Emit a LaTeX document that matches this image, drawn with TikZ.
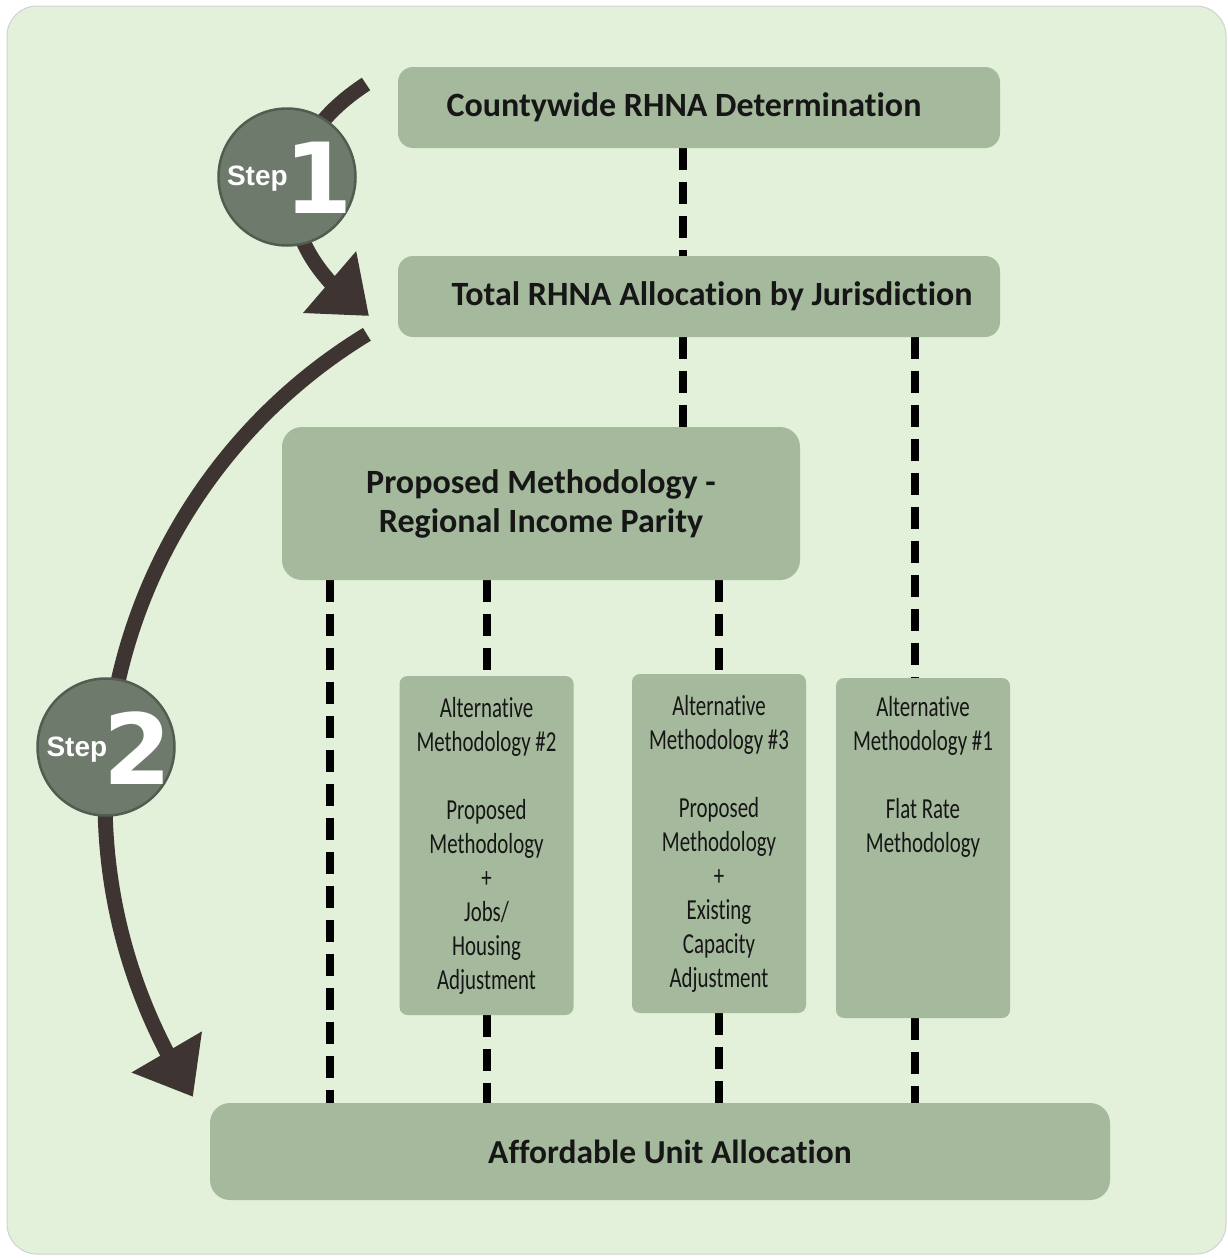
\documentclass[tikz,border=0pt]{standalone}
\usepackage{fontspec}
\setmainfont[Ligatures=NoCommon]{Carlito}
\newfontfamily\altfont[FakeStretch=0.72,Ligatures=NoCommon]{Carlito}
\newfontfamily\stepfont{Liberation Sans}
\newfontfamily\digitfont{DejaVu Sans}
\usetikzlibrary{arrows.meta,bending}
\definecolor{bgc}{HTML}{E3F0DA}
\definecolor{boxc}{HTML}{A5B99C}
\definecolor{arrowc}{HTML}{3E3431}
\definecolor{circc}{HTML}{6E7A6B}
\definecolor{circe}{HTML}{525C50}
\definecolor{txtc}{HTML}{161616}
\pgfdeclarelayer{bglayer}
\pgfsetlayers{bglayer,main}
\tikzset{
  titlebox/.style={fill=boxc, rounded corners=15pt, inner sep=0pt, text=txtc,
    font=\bfseries\fontsize{34}{39}\selectfont, align=center},
  altbox/.style={fill=boxc, rounded corners=8pt, inner sep=0pt, text=txtc,
    minimum width=174pt, minimum height=339pt, align=center,
    font=\altfont\fontsize{29}{34}\selectfont},
  dashline/.style={line width=8pt, black, dash pattern=on 22pt off 12pt},
  steparrow/.style={arrowc, line width=15pt, -{Triangle[length=52pt,width=78pt]}},
  stepcircle/.style={circle, fill=circc, draw=circe, line width=2.5pt,
    minimum size=137pt, inner sep=0pt, text=white},
}
\newcommand\stepword{\stepfont\bfseries\fontsize{28}{28}\selectfont Step}
\newcommand\stepdigit[1]{{\digitfont\bfseries\fontsize{98}{98}\selectfont #1}}
\newcommand\steplabel[3]{\smash{\makebox[0pt]{\raisebox{-#3}{\hspace{6pt}\raisebox{28pt}{\stepword}\hspace{#2}\stepdigit{#1}}}}}
\begin{document}
\begin{tikzpicture}[x=1pt,y=-1pt]
\useasboundingbox (0,0) rectangle (1228,1258);

% boxes
\node[titlebox, minimum width=602pt, minimum height=81pt] (b1) at (699,107.5)
  {Countywide RHNA Determination\hspace*{30pt}};
\node[titlebox, minimum width=602pt, minimum height=81pt] (b2) at (699,296.5)
  {\hspace*{26pt}Total RHNA Allocation by Jurisdiction};
\node[titlebox, rounded corners=20pt, minimum width=518pt, minimum height=153pt] (b3) at (541,503.5)
  {Proposed Methodology -\\Regional Income Parity};
\node[altbox] (a2) at (486.5,845.5)
  {Alternative\\Methodology \#2\\\strut\\Proposed\\Methodology\\+\\Jobs/\\Housing\\Adjustment};
\node[altbox] (a3) at (719,843.5)
  {Alternative\\Methodology \#3\\\strut\\Proposed\\Methodology\\+\\Existing\\Capacity\\Adjustment};
\node[altbox, minimum height=340pt] (a1) at (923,848)
  {Alternative\\Methodology \#1\\\strut\\Flat Rate\\Methodology\\\strut\\\strut\\\strut\\\strut};
\node[titlebox, rounded corners=20pt, minimum width=900pt, minimum height=97pt,
  font=\bfseries\fontsize{33.5}{39}\selectfont] (b4) at (660,1151.5)
  {\hspace*{20pt}Affordable Unit Allocation};

\coordinate (c683) at (683,0);
\coordinate (c915) at (915,0);
\coordinate (c330) at (330,0);

\begin{pgfonlayer}{bglayer}
  \draw[draw=black!18, fill=bgc, rounded corners=30pt, line width=1pt] (7,6) rectangle (1226,1254);
  \draw[dashline] (b1.south -| c683) -- (b2.north -| c683);
  \draw[dashline] (b2.south -| c683) -- (b3.north -| c683);
  \draw[dashline] (b2.south -| c915) -- (a1.north -| c915);
  \draw[dashline] (b3.south -| c330) -- (b4.north -| c330);
  \draw[dashline] (b3.south -| a2.north) -- (a2.north);
  \draw[dashline] (b3.south -| a3.north) -- (a3.north);
  \draw[dashline] (a2.south) -- (b4.north -| a2.south);
  \draw[dashline] (a3.south) -- (b4.north -| a3.south);
  \draw[dashline] (a1.south -| c915) -- (b4.north -| c915);
\end{pgfonlayer}

% step arrows
\draw[steparrow] (366,84) .. controls (265,150) and (272,248) .. (369,316);
\draw[steparrow] (650,800) ++(238.7:545) arc[start angle=238.7, end angle=147, radius=545];

% step circles
\node[stepcircle] (s1) at (287,177) {\steplabel{1}{-3pt}{36pt}};
\node[stepcircle] (s2) at (106,747) {\steplabel{2}{-4pt}{37pt}};
\end{tikzpicture}
\end{document}
